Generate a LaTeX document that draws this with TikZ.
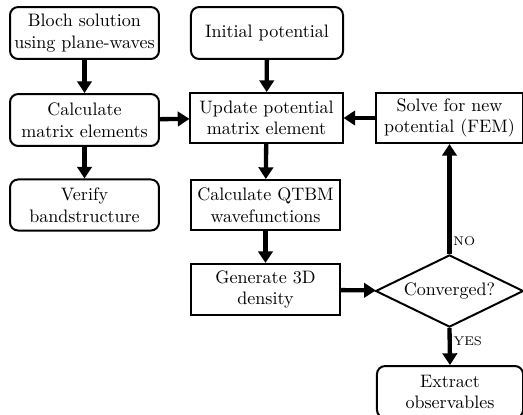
\documentclass[tikz,border=0pt]{standalone}
\usetikzlibrary{shapes.geometric,arrows.meta}
\begin{document}
\begin{tikzpicture}[x=0.5545pt,y=-0.5545pt,
 rbox/.style={draw,rounded corners=4.5pt,line width=1.1pt,align=center,minimum width=82.6pt,minimum height=28.8pt,inner sep=1pt},
 sbox/.style={draw,line width=1.1pt,align=center,minimum width=82.6pt,minimum height=27.7pt,inner sep=1pt},
 arr/.style={line width=2.4pt,-{Triangle[width=8pt,length=6.5pt]}},
 lbl/.style={font=\scriptsize,inner sep=1pt,anchor=west}]
\useasboundingbox (0,0) rectangle (523,414);
\node[rbox] (bloch) at (84.5,33) {Bloch solution\\using plane-waves};
\node[rbox,minimum width=84.3pt] (init) at (267,33) {Initial potential};
\node[rbox] (calc) at (84.5,120) {Calculate\\matrix elements};
\node[sbox,minimum width=84.3pt] (upd) at (266.5,118) {Update potential\\matrix element};
\node[sbox,minimum width=81pt] (solve) at (449.5,118) {Solve for new\\potential (FEM)};
\node[rbox,minimum height=28.3pt] (verify) at (84.5,205) {Verify\\bandstructure};
\node[sbox] (qtbm) at (265.5,205) {Calculate QTBM\\wavefunctions};
\node[sbox,minimum height=28.3pt] (gen) at (265.5,289.5) {Generate 3D\\density};
\node[draw,diamond,aspect=2.05,line width=1.1pt,minimum width=82pt,minimum height=40pt,inner sep=0pt] (conv) at (449.5,291) {Converged?};
\node[rbox,minimum width=81pt] (extr) at (450,392) {Extract\\observables};
\draw[arr] (bloch) -- (calc);
\draw[arr] (init) -- (upd);
\draw[arr] (calc) -- (upd);
\draw[arr] (solve) -- (upd);
\draw[arr] (calc) -- (verify);
\draw[arr] (upd) -- (qtbm);
\draw[arr] (qtbm) -- (gen);
\draw[arr] (gen) -- (conv);
\draw[arr] (conv.north) -- node[lbl,pos=0.12]{NO} (solve.south);
\draw[arr] (conv.south) -- node[lbl,pos=0.35]{YES} (extr.north);
\end{tikzpicture}
\end{document}
